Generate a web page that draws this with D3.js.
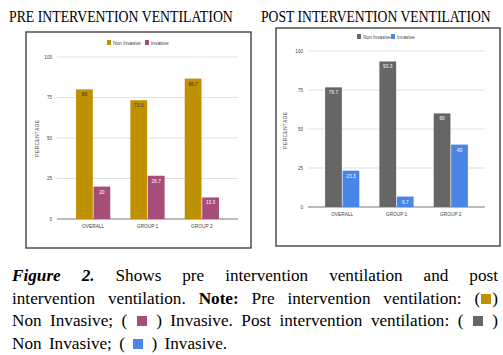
<!DOCTYPE html>
<html><head><meta charset="utf-8">
<script src="https://cdn.jsdelivr.net/npm/d3@7/dist/d3.min.js"></script>
<style>
body{margin:0;background:#fff;width:503px;height:355px;overflow:hidden;position:relative;}
svg{position:absolute;left:0;top:0;}
#cap{position:absolute;left:12px;top:265px;width:486px;font-family:"Liberation Serif","Times New Roman",serif;font-size:17.2px;line-height:22.7px;color:#000;}
#cap .ln{display:block;white-space:nowrap;text-align:justify;text-align-last:justify;}
#cap .ln.last{text-align-last:left;word-spacing:3px;}
.sw{display:inline-block;width:10px;height:10px;vertical-align:0px;margin:0 1px;}
</style></head><body>
<svg id="chart" width="503" height="355"></svg>
<div id="cap"></div>
<script>
const categories = ["OVERALL", "GROUP 1", "GROUP 2"];
const seriesNames = ["Non Invasive", "Invasive"];
const preNonInvasive = [80, 73.3, 86.7];
const preInvasive = [20, 26.7, 13.3];
const postNonInvasive = [76.7, 93.3, 60];
const postInvasive = [23.3, 6.7, 40];
const yTicks = [0, 25, 50, 75, 100];
const preColors = ["#bf9000", "#a64d79"];
const postColors = ["#666666", "#4a86e8"];

const svg = d3.select("#chart");

function drawChart(cfg) {
  const g = svg.append("g");
  const t = g.append("text").attr("x", 0).attr("y", 0)
    .attr("font-family", "Liberation Serif, Times New Roman, serif")
    .attr("font-size", 17).text(cfg.title);
  const nat = t.node().getComputedTextLength();
  t.attr("transform", `translate(${cfg.titleX},21.5) scale(${cfg.titleW / nat},1)`);
  g.append("rect").attr("x", cfg.box[0]).attr("y", cfg.box[1]).attr("width", cfg.box[2]).attr("height", cfg.box[3])
    .attr("fill", "#fff").attr("stroke", "#333").attr("stroke-width", 1.3);
  const y = d3.scaleLinear().domain([0, 100]).range([cfg.y0, cfg.y100]);
  const x = d3.scaleBand().domain(categories).range([cfg.x0, cfg.x1]).paddingInner(0.37).paddingOuter(cfg.po);
  const xs = d3.scaleBand().domain(seriesNames).range([0, x.bandwidth()]).paddingInner(0.04);
  g.append("g").selectAll("line").data(yTicks).join("line")
    .attr("x1", cfg.x0).attr("x2", cfg.x1).attr("y1", d => y(d)).attr("y2", d => y(d))
    .attr("stroke", d => d === 0 ? "#555" : "#d9d9d9").attr("stroke-width", 0.8);
  g.append("g").selectAll("text").data(yTicks).join("text")
    .attr("x", cfg.x0 - 5).attr("y", d => y(d) + 1.8).attr("text-anchor", "end")
    .attr("font-family", "Liberation Sans, Arial, sans-serif").attr("font-size", 4.6).attr("fill", "#444")
    .text(d => d);
  g.append("text").attr("transform", `translate(${cfg.yLabX},${cfg.yLabY}) rotate(-90)`)
    .attr("text-anchor", "middle").attr("font-family", "Liberation Sans, Arial, sans-serif")
    .attr("font-size", 4.6).attr("letter-spacing", 0.6).attr("fill", "#444").text("PERCENTAGE");
  g.append("g").selectAll("text").data(categories).join("text")
    .attr("x", d => x(d) + x.bandwidth() / 2).attr("y", cfg.y0 + 9).attr("text-anchor", "middle")
    .attr("font-family", "Liberation Sans, Arial, sans-serif").attr("font-size", 4.8).attr("fill", "#444")
    .text(d => d);
  const data = [];
  categories.forEach((c, i) => {
    data.push({c, s: seriesNames[0], v: cfg.vals[0][i], k: 0});
    data.push({c, s: seriesNames[1], v: cfg.vals[1][i], k: 1});
  });
  g.append("g").selectAll("rect").data(data).join("rect")
    .attr("x", d => x(d.c) + xs(d.s)).attr("width", xs.bandwidth())
    .attr("y", d => y(d.v)).attr("height", d => y(0) - y(d.v))
    .attr("fill", d => cfg.colors[d.k]);
  g.append("g").selectAll("text").data(data).join("text")
    .attr("x", d => x(d.c) + xs(d.s) + xs.bandwidth() / 2).attr("y", d => y(d.v) + 7)
    .attr("text-anchor", "middle").attr("font-family", "Liberation Sans, Arial, sans-serif")
    .attr("font-size", 4.8).attr("fill", d => cfg.labelFill[d.k]).text(d => d.v);
  const lg = g.append("g").attr("font-family", "Liberation Sans, Arial, sans-serif").attr("font-size", 4.8).attr("fill", "#444");
  seriesNames.forEach((s, i) => {
    lg.append("rect").attr("x", cfg.leg[i]).attr("y", cfg.legY - 3).attr("width", 4).attr("height", 5).attr("fill", cfg.colors[i]);
    lg.append("text").attr("x", cfg.leg[i] + 6).attr("y", cfg.legY + 1.5).text(s);
  });
}

drawChart({
  title: "PRE INTERVENTION VENTILATION", titleX: 9, titleW: 224,
  box: [26, 32, 225, 216], x0: 57, x1: 238, po: 0.35, y0: 219, y100: 57,
  yLabX: 39, yLabY: 138, vals: [preNonInvasive, preInvasive], colors: preColors,
  labelFill: ["#333", "#fff"], leg: [107, 145], legY: 43
});
drawChart({
  title: "POST INTERVENTION VENTILATION", titleX: 261, titleW: 230,
  box: [276, 28, 224, 218], x0: 308, x1: 485, po: 0.315, y0: 207, y100: 51,
  yLabX: 287, yLabY: 130, vals: [postNonInvasive, postInvasive], colors: postColors,
  labelFill: ["#fff", "#fff"], leg: [357, 391], legY: 37
});

const sw = c => '<span class="sw" style="background:' + c + '"></span>';
const captionLines = [
  '<i><b>Figure 2.</b></i> Shows pre intervention ventilation and post',
  'intervention ventilation. <b>Note:</b> Pre intervention ventilation: (' + sw(preColors[0]) + ')',
  'Non Invasive; ( ' + sw(preColors[1]) + ' ) Invasive. Post intervention ventilation: ( ' + sw(postColors[0]) + ' )',
  'Non Invasive; ( ' + sw(postColors[1]) + ' ) Invasive.'
];
d3.select("#cap").selectAll("span.ln").data(captionLines).join("span")
  .attr("class", (d, i) => "ln" + (i === captionLines.length - 1 ? " last" : ""))
  .html(d => d);
</script>
</body></html>
